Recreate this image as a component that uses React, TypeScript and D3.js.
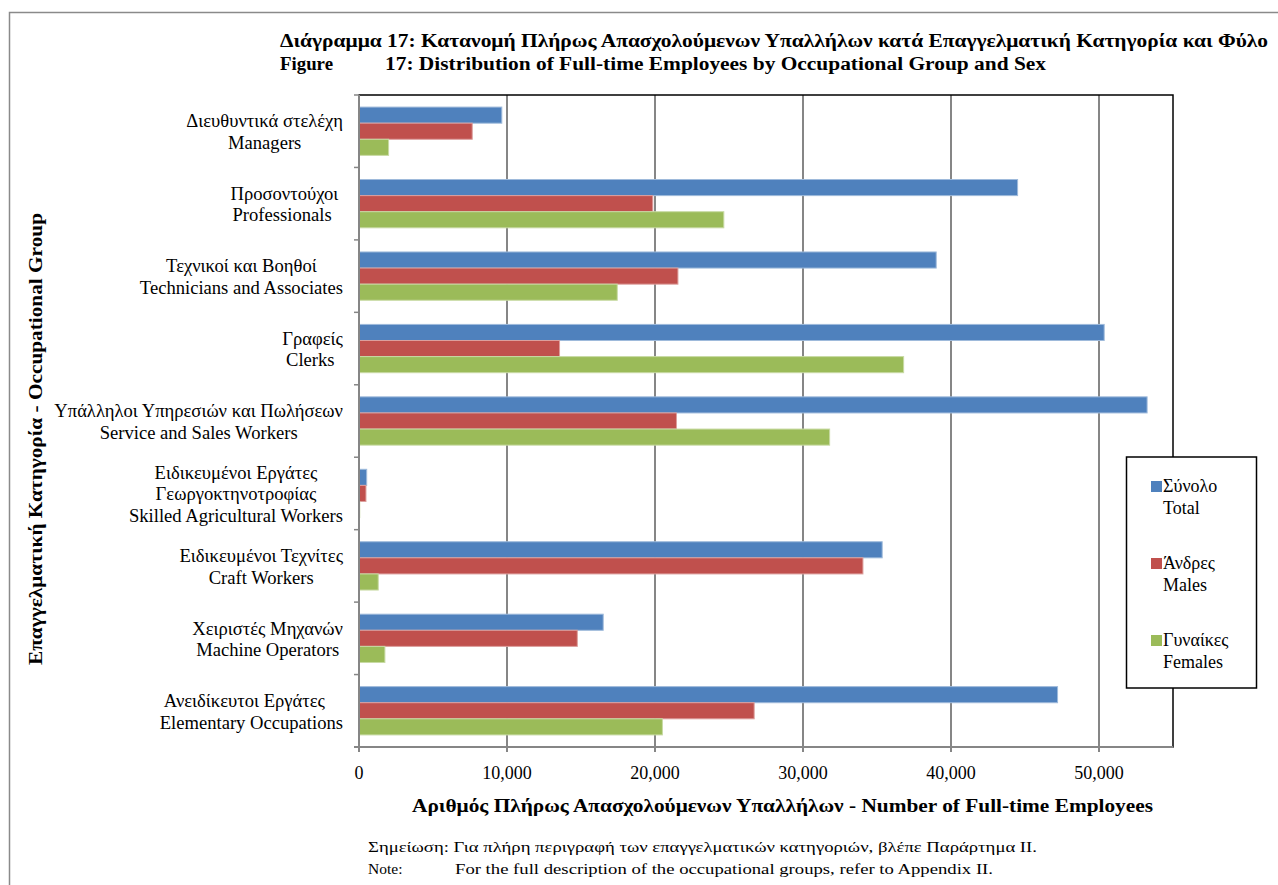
import React, { useEffect, useRef } from "react";
import * as d3 from "d3";

const categoryLabels: string[][] = [
  ["Διευθυντικά στελέχη", "Managers"],
  ["Προσοντούχοι ", "Professionals  "],
  ["Τεχνικοί και Βοηθοί", "Technicians and Associates"],
  ["Γραφείς", "Clerks "],
  ["Υπάλληλοι Υπηρεσιών και Πωλήσεων", "Service and Sales Workers"],
  ["Ειδικευμένοι Εργάτες", "Γεωργοκτηνοτροφίας", "Skilled Agricultural Workers"],
  ["Ειδικευμένοι Τεχνίτες", "Craft Workers"],
  ["Χειριστές Μηχανών", "Machine Operators"],
  ["Ανειδίκευτοι Εργάτες   ", "Elementary Occupations"],
];

const totalValues = [9650, 44500, 39000, 50350, 53250, 520, 35350, 16500, 47200];
const maleValues = [7650, 19850, 21550, 13550, 21450, 470, 34050, 14750, 26700];
const femaleValues = [2000, 24650, 17450, 36800, 31800, 50, 1300, 1750, 20500];

const seriesKeys = ["total", "males", "females"];
const seriesLegend: string[][] = [
  ["Σύνολο", "Total"],
  ["Άνδρες", "Males"],
  ["Γυναίκες", "Females"],
];
const seriesColors = ["#4F81BD", "#C0504D", "#9BBB59"];
const xTicks = [0, 10000, 20000, 30000, 40000, 50000];

const titleLine1 =
  "Διάγραμμα 17: Κατανομή Πλήρως Απασχολούμενων Υπαλλήλων κατά Επαγγελματική Κατηγορία και Φύλο";
const titleLine2a = "Figure";
const titleLine2b = "17: Distribution of Full-time Employees by Occupational Group and Sex";
const xTitle = "Αριθμός Πλήρως Απασχολούμενων Υπαλλήλων - Number of Full-time Employees";
const yTitle = "Επαγγελματική Κατηγορία - Occupational Group";
const noteGr = "Σημείωση: Για πλήρη περιγραφή των επαγγελματικών κατηγοριών, βλέπε Παράρτημα ΙΙ.";
const noteEnA = "Note:";
const noteEnB = "For the full description of the occupational groups, refer to Appendix II.";

const FONT = "'Liberation Serif', 'Times New Roman', serif";

export default function App() {
  const ref = useRef<SVGSVGElement>(null);

  useEffect(() => {
    const svg = d3.select(ref.current);
    svg.selectAll("*").remove();

    const W = 1278, H = 885;
    const left = 359, right = 1173, top = 95, bottom = 747;

    svg.append("rect").attr("x", 0).attr("y", 0).attr("width", W).attr("height", H).attr("fill", "#fff");
    // outer frame
    svg.append("rect").attr("x", 9.5).attr("y", 12.5).attr("width", W + 20).attr("height", H + 20)
      .attr("fill", "none").attr("stroke", "#8a8a8a").attr("stroke-width", 1.5);

    const x = d3.scaleLinear().domain([0, 55000]).range([left, right]);
    const idx = categoryLabels.map((_, i) => String(i));
    const y = d3.scaleBand().domain(idx).range([top, bottom]).padding(0);
    const ys = d3.scaleBand().domain(seriesKeys).range([0, y.bandwidth()]).paddingInner(0).paddingOuter(0.75);

    const valuesBySeries = [totalValues, maleValues, femaleValues];

    // gridlines
    svg.append("g").selectAll("line").data(xTicks.filter(t => t > 0)).join("line")
      .attr("x1", d => x(d)).attr("x2", d => x(d)).attr("y1", top).attr("y2", bottom)
      .attr("stroke", "#868686").attr("stroke-width", 2);

    // plot border
    svg.append("rect").attr("x", left).attr("y", top).attr("width", right - left).attr("height", bottom - top)
      .attr("fill", "none").attr("stroke", "#000").attr("stroke-width", 1.5);

    // bars
    const gBars = svg.append("g");
    seriesKeys.forEach((k, si) => {
      const col = d3.color(seriesColors[si])!;
      const light = d3.interpolateRgb(seriesColors[si], "#ffffff")(0.45);
      gBars.append("g").selectAll("rect").data(valuesBySeries[si]).join("rect")
        .attr("x", x(0))
        .attr("y", (_, i) => (y(String(i)) as number) + (ys(k) as number))
        .attr("width", d => Math.max(0, x(d) - x(0)))
        .attr("height", ys.bandwidth())
        .attr("fill", col.toString())
        .attr("stroke", light)
        .attr("stroke-width", 1);
    });

    // axes lines
    svg.append("line").attr("x1", left).attr("x2", left).attr("y1", top).attr("y2", bottom + 0.5)
      .attr("stroke", "#868686").attr("stroke-width", 2);
    svg.append("line").attr("x1", left - 5).attr("x2", right).attr("y1", bottom).attr("y2", bottom)
      .attr("stroke", "#868686").attr("stroke-width", 2);
    // y ticks at category boundaries
    const bounds = idx.map(i => y(i) as number).concat([bottom]);
    svg.append("g").selectAll("line").data(bounds).join("line")
      .attr("x1", left - 5).attr("x2", left).attr("y1", d => d).attr("y2", d => d)
      .attr("stroke", "#868686").attr("stroke-width", 1.5);
    // x ticks
    svg.append("g").selectAll("line").data(xTicks).join("line")
      .attr("x1", d => x(d)).attr("x2", d => x(d)).attr("y1", bottom).attr("y2", bottom + 5)
      .attr("stroke", "#868686").attr("stroke-width", 2);

    // x tick labels
    svg.append("g").selectAll("text").data(xTicks).join("text")
      .attr("x", d => x(d)).attr("y", 779)
      .attr("text-anchor", "middle")
      .attr("font-family", FONT).attr("font-size", 18)
      .text(d => d3.format(",")(d));

    // category labels: block right-aligned, lines centered
    const lineH = 21.5;
    categoryLabels.forEach((lines, i) => {
      const cy = (y(String(i)) as number) + y.bandwidth() / 2;
      const g = svg.append("g");
      const texts = lines.map((ln, li) =>
        g.append("text")
          .attr("font-family", FONT).attr("font-size", 18.6)
          .attr("xml:space", "preserve")
          .style("white-space", "pre")
          .attr("y", cy + (li - (lines.length - 1) / 2) * lineH + 7)
          .text(ln)
      );
      const widths = texts.map(t => (t.node() as SVGTextElement).getComputedTextLength());
      const maxW = Math.max(...widths);
      const center = 343 - maxW / 2;
      texts.forEach((t, li) => t.attr("x", center - widths[li] / 2));
    });

    // title
    svg.append("text").attr("x", 280).attr("y", 47)
      .attr("font-family", FONT).attr("font-size", 18).attr("font-weight", "bold")
      .attr("textLength", 988).attr("lengthAdjust", "spacingAndGlyphs")
      .text(titleLine1);
    svg.append("text").attr("x", 280).attr("y", 70)
      .attr("font-family", FONT).attr("font-size", 18).attr("font-weight", "bold")
      .attr("textLength", 53).attr("lengthAdjust", "spacingAndGlyphs")
      .text(titleLine2a);
    svg.append("text").attr("x", 385).attr("y", 70)
      .attr("font-family", FONT).attr("font-size", 18).attr("font-weight", "bold")
      .attr("textLength", 661).attr("lengthAdjust", "spacingAndGlyphs")
      .text(titleLine2b);

    // x title
    svg.append("text").attr("x", 412).attr("y", 812)
      .attr("font-family", FONT).attr("font-size", 18).attr("font-weight", "bold")
      .attr("textLength", 741).attr("lengthAdjust", "spacingAndGlyphs")
      .text(xTitle);

    // y title
    svg.append("text")
      .attr("transform", "translate(42,665) rotate(-90)")
      .attr("font-family", FONT).attr("font-size", 18).attr("font-weight", "bold")
      .attr("textLength", 452).attr("lengthAdjust", "spacingAndGlyphs")
      .text(yTitle);

    // notes
    svg.append("text").attr("x", 368).attr("y", 852)
      .attr("font-family", FONT).attr("font-size", 15.5)
      .attr("textLength", 669).attr("lengthAdjust", "spacingAndGlyphs")
      .text(noteGr);
    svg.append("text").attr("x", 368).attr("y", 874)
      .attr("font-family", FONT).attr("font-size", 15.5)
      .text(noteEnA);
    svg.append("text").attr("x", 455).attr("y", 874)
      .attr("font-family", FONT).attr("font-size", 15.5)
      .attr("textLength", 538).attr("lengthAdjust", "spacingAndGlyphs")
      .text(noteEnB);

    // legend
    const lg = svg.append("g");
    lg.append("rect").attr("x", 1126.5).attr("y", 457).attr("width", 130).attr("height", 231)
      .attr("fill", "#fff").attr("stroke", "#000").attr("stroke-width", 1.5);
    const legendY = [481, 558, 635];
    seriesLegend.forEach((lines, si) => {
      lg.append("rect").attr("x", 1151).attr("y", legendY[si]).attr("width", 11).attr("height", 11)
        .attr("fill", seriesColors[si]);
      lines.forEach((ln, li) => {
        lg.append("text").attr("x", 1163).attr("y", legendY[si] + 11 + li * 21.5)
          .attr("font-family", FONT).attr("font-size", 18)
          .text(ln);
      });
    });
  }, []);

  return (
    <svg
      ref={ref}
      width={1278}
      height={885}
      style={{ position: "absolute", left: 0, top: 0, display: "block" }}
    />
  );
}
